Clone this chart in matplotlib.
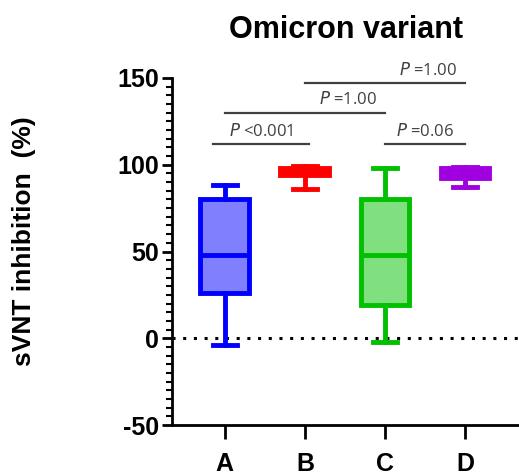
import numpy as np
import matplotlib
matplotlib.use("Agg")
import matplotlib.pyplot as plt

plt.rcParams["font.family"] = ["Liberation Sans", "DejaVu Sans"]
plt.rcParams["axes.unicode_minus"] = False

groups = ["A", "B", "C", "D"]
whislo = [-4, 86, -2, 87]
q1 = [26, 94, 19, 92.5]
med = [48, 96, 48, 95]
q3 = [80, 98, 80.5, 98]
whishi = [88.5, 99, 98, 98.5]
edge_colors = ["#0000FF", "#FF0000", "#00C000", "#A000E0"]
fill_colors = ["#8080FF", "#FF0000", "#80E080", "#A000E0"]

# significance brackets: (left idx, right idx, y, label)
brackets = [(0, 1, 112, "<0.001"), (0, 2, 130, "=1.00"),
            (1, 3, 147, "=1.00"), (2, 3, 112, "=0.06")]
# text placement per bracket: centred or right-aligned
text_align = ["center", "right", "right", "center"]

fig = plt.figure(figsize=(5.19, 4.75), dpi=100)
ax = fig.add_axes([0.331, 0.105, 0.669, 0.731])

stats = []
for i in range(len(groups)):
    stats.append({"whislo": whislo[i], "q1": q1[i], "med": med[i],
                  "q3": q3[i], "whishi": whishi[i], "fliers": []})
pos = np.arange(len(groups))
bp = ax.bxp(stats, positions=pos, widths=0.61, patch_artist=True,
            showfliers=False)
for i in range(len(groups)):
    bp["boxes"][i].set(facecolor=fill_colors[i], edgecolor=edge_colors[i], linewidth=3.5)
    bp["medians"][i].set(color=edge_colors[i], linewidth=3.5)
    for w in bp["whiskers"][2 * i:2 * i + 2]:
        w.set(color=edge_colors[i], linewidth=3.5)
    for c in bp["caps"][2 * i:2 * i + 2]:
        c.set(color=edge_colors[i], linewidth=3.5)
        c.set_xdata([pos[i] - 0.15, pos[i] + 0.15])

ax.axhline(0, color="black", linestyle=(0, (1, 2.5)), linewidth=2.2, zorder=0)

for k, (l, r, y, lab) in enumerate(brackets):
    x0 = pos[l] - 0.15 if k == 0 else pos[l]
    x1 = pos[r] + 0.05 if k == 0 else pos[r]
    ax.plot([x0, x1], [y, y], color="#404040", linewidth=1.6, clip_on=False)
    if text_align[k] == "center":
        tx = (x0 + x1) / 2
    else:
        tx = x1 - 0.1
    ax.text(tx, y + 2.5, r"$\it{P}$ " + lab, ha=text_align[k], va="bottom",
            fontsize=12, color="#404040", family=["Open Sans", "DejaVu Sans"],
            clip_on=False)

ax.set_xlim(-0.663, 3.675)
ax.set_ylim(-50, 150)
ax.set_yticks([-50, 0, 50, 100, 150])
ax.set_yticks(np.arange(-50, 151, 5), minor=True)
ax.set_xticks(pos)
ax.set_xticklabels(groups, fontsize=18, fontweight="bold")
for t in ax.get_yticklabels():
    t.set_fontsize(18)
    t.set_fontweight("bold")
ax.tick_params(axis="y", which="major", length=7, width=2, pad=2)
ax.tick_params(axis="y", which="minor", length=4, width=1.5)
ax.tick_params(axis="x", which="major", length=10, width=2, pad=9)
ax.spines["top"].set_visible(False)
ax.spines["right"].set_visible(False)
ax.spines["left"].set_linewidth(2)
ax.spines["bottom"].set_linewidth(2)

ax.set_ylabel("sVNT inhibition  (%)", fontsize=19, fontweight="bold")
ax.yaxis.set_label_coords(-0.39, 0.53)
fig.text(0.667, 0.937, "Omicron variant", ha="center", va="center",
         fontsize=22, fontweight="bold")

fig.savefig("out.png", dpi=100)
